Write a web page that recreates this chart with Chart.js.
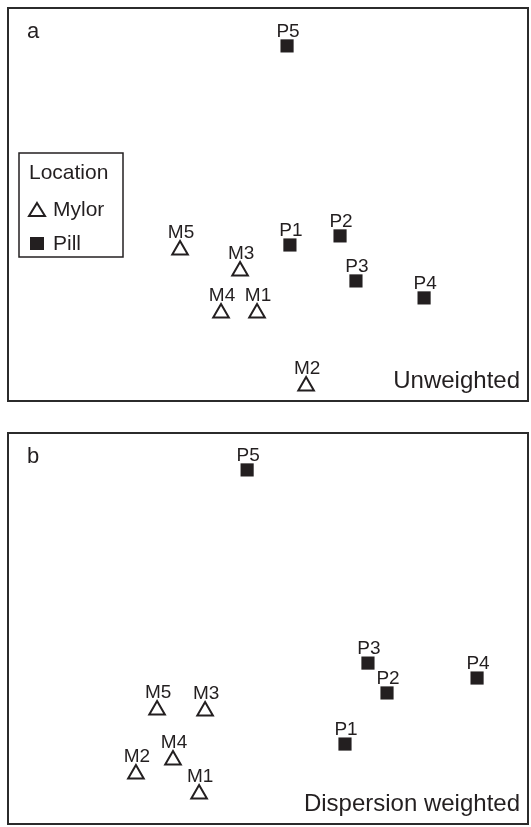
<!DOCTYPE html>
<html>
<head>
<meta charset="utf-8">
<script src="https://cdn.jsdelivr.net/npm/chart.js@4.4.1/dist/chart.umd.min.js"></script>
<style>
  body { margin: 0; background: #fff; width: 531px; height: 827px; position: relative; overflow: hidden; }
  canvas { position: absolute; left: 7px; }
  #chartA { top: 7px; }
  #chartB { top: 432px; }
</style>
</head>
<body>
<canvas id="chartA" width="522" height="395"></canvas>
<canvas id="chartB" width="522" height="393"></canvas>
<script>
// Site names
const mylorNames = ['M1', 'M2', 'M3', 'M4', 'M5'];
const pillNames = ['P1', 'P2', 'P3', 'P4', 'P5'];

// Ordination scores, panel a (unweighted)
const mylorUnwX = [-0.042, 0.146, -0.107, -0.180, -0.337];
const mylorUnwY = [-0.549, -0.919, -0.337, -0.549, -0.230];
const pillUnwX = [0.084, 0.276, 0.337, 0.598, 0.073];
const pillUnwY = [-0.205, -0.159, -0.387, -0.473, 0.803];

// Ordination scores, panel b (dispersion weighted)
const mylorDispX = [-0.264, -0.506, -0.241, -0.364, -0.425];
const mylorDispY = [-0.842, -0.740, -0.420, -0.669, -0.415];
const pillDispX = [0.295, 0.456, 0.383, 0.801, -0.080];
const pillDispY = [-0.588, -0.328, -0.176, -0.252, 0.807];

const INK = '#231f20';
const FONT = '"Liberation Sans", Arial, Helvetica, sans-serif';

function toPoints(xs, ys) {
    return xs.map((x, i) => ({ x: x, y: ys[i] }));
}

// Frame, point labels, panel letter, caption and (optional) legend
const annotatePlugin = {
    id: 'annotate',
    afterDatasetsDraw(chart, args, opts) {
        const ctx = chart.ctx;
        const area = chart.chartArea;
        ctx.save();
        ctx.fillStyle = INK;
        ctx.textBaseline = 'alphabetic';

        // point labels
        ctx.font = '19px ' + FONT;
        ctx.textAlign = 'center';
        chart.data.datasets.forEach((ds, di) => {
            const meta = chart.getDatasetMeta(di);
            meta.data.forEach((el, i) => {
                const off = ds.pointStyle === 'triangle' ? 12 : 9;
                ctx.fillText(ds.names[i], el.x + 1, el.y - off);
            });
        });

        // panel letter
        ctx.textAlign = 'left';
        ctx.font = '22px ' + FONT;
        ctx.fillText(opts.letter, area.left + 20, area.top + 31);

        // caption
        ctx.textAlign = 'right';
        ctx.font = '24px ' + FONT;
        ctx.fillText(opts.caption, area.right - 9, area.bottom - 14);

        // legend box
        if (opts.legend) {
            ctx.strokeStyle = INK;
            ctx.lineWidth = 1.5;
            ctx.strokeRect(area.left + 12, area.top + 146, 104, 104);
            ctx.textAlign = 'left';
            ctx.font = '21px ' + FONT;
            ctx.fillText('Location', area.left + 22, area.top + 172);
            ctx.fillText('Mylor', area.left + 46, area.top + 209);
            ctx.fillText('Pill', area.left + 46, area.top + 243);
            // triangle symbol
            ctx.lineWidth = 2;
            ctx.beginPath();
            ctx.moveTo(area.left + 30, area.top + 196);
            ctx.lineTo(area.left + 38, area.top + 209);
            ctx.lineTo(area.left + 22, area.top + 209);
            ctx.closePath();
            ctx.fillStyle = '#fff';
            ctx.fill();
            ctx.stroke();
            // square symbol
            ctx.fillStyle = INK;
            ctx.fillRect(area.left + 23, area.top + 230, 14, 13);
        }

        // frame
        ctx.strokeStyle = '#2b2b2b';
        ctx.lineWidth = 2;
        ctx.strokeRect(area.left + 1, area.top + 1, area.right - area.left - 2, area.bottom - area.top - 2);
        ctx.restore();
    }
};

function makeChart(id, mylor, pill, letter, caption, legend) {
    const ctx = document.getElementById(id).getContext('2d');
    return new Chart(ctx, {
        type: 'scatter',
        data: {
            datasets: [{
                label: 'Mylor',
                names: mylorNames,
                data: mylor,
                pointStyle: 'triangle',
                pointRadius: 9,
                pointBackgroundColor: '#fff',
                pointBorderColor: INK,
                pointBorderWidth: 2
            }, {
                label: 'Pill',
                names: pillNames,
                data: pill,
                pointStyle: 'rect',
                pointRadius: 9.3,
                pointBackgroundColor: INK,
                pointBorderColor: INK,
                pointBorderWidth: 0
            }]
        },
        options: {
            responsive: false,
            animation: false,
            layout: { padding: 0, autoPadding: false },
            scales: {
                x: { type: 'linear', min: -1, max: 1, display: false },
                y: { type: 'linear', min: -1, max: 1, display: false }
            },
            plugins: {
                legend: { display: false },
                tooltip: { enabled: false },
                annotate: { letter: letter, caption: caption, legend: legend }
            }
        },
        plugins: [annotatePlugin]
    });
}

makeChart('chartA', toPoints(mylorUnwX, mylorUnwY), toPoints(pillUnwX, pillUnwY), 'a', 'Unweighted', true);
makeChart('chartB', toPoints(mylorDispX, mylorDispY), toPoints(pillDispX, pillDispY), 'b', 'Dispersion weighted', false);
</script>
</body>
</html>
